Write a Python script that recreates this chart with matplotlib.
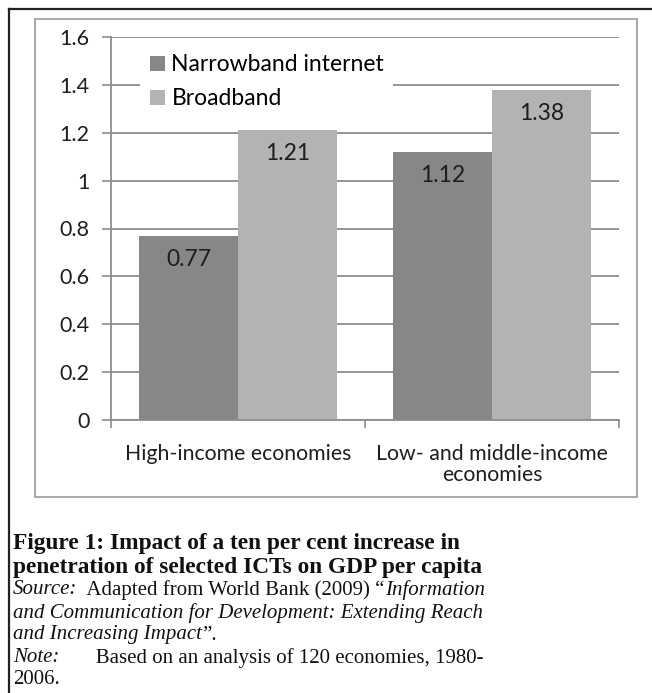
import numpy as np
import matplotlib.pyplot as plt
from matplotlib.lines import Line2D
from matplotlib.patches import Rectangle

# 数据
categories = ["High-income economies", "Low- and middle-income\neconomies"]
series_names = ["Narrowband internet", "Broadband"]
narrowband = [0.77, 1.12]
broadband = [1.21, 1.38]
value_labels = [["0.77", "1.12"], ["1.21", "1.38"]]
y_ticks = [0, 0.2, 0.4, 0.6, 0.8, 1, 1.2, 1.4, 1.6]
y_tick_labels = ["0", "0.2", "0.4", "0.6", "0.8", "1", "1.2", "1.4", "1.6"]

W, H = 652, 693
fig = plt.figure(figsize=(W / 100, H / 100), dpi=100)

def px(x, y):
    # 像素坐标 -> figure 坐标
    return x / W, 1 - y / H

# 外框与内框
fig.add_artist(Line2D([9 / W, 9 / W], [0, 1 - 9 / H], color="#222222", lw=1.6))
fig.add_artist(Line2D([9 / W, 1], [1 - 9 / H, 1 - 9 / H], color="#222222", lw=1.6))
fig.add_artist(Rectangle(px(35, 497), (637 - 35) / W, (497 - 19) / H,
                         fill=False, edgecolor="#9a9a9a", lw=1.2))

# 图表区域
l, r, t, b = 111, 619, 37, 420
ax = fig.add_axes([l / W, 1 - b / H, (r - l) / W, (b - t) / H])

x = np.arange(len(categories))
w = 0.39
c_narrow, c_broad = "#878787", "#b3b3b3"
bars1 = ax.bar(x - w / 2, narrowband, w, color=c_narrow, label=series_names[0], zorder=2)
bars2 = ax.bar(x + w / 2, broadband, w, color=c_broad, label=series_names[1], zorder=2)

txt_font = "Lato"
txt_color = "#1e1e1e"
for bars, labs in zip([bars1, bars2], value_labels):
    for bar, lab in zip(bars, labs):
        ax.annotate(lab, (bar.get_x() + bar.get_width() / 2, bar.get_height()),
                    xytext=(0, -17), textcoords="offset points",
                    ha="center", va="center", fontsize=16.5, family=txt_font,
                    color=txt_color)

ax.set_xlim(-0.5, 1.5)
ax.set_ylim(0, 1.6)
ax.set_yticks(y_ticks)
ax.set_yticklabels(y_tick_labels, family=txt_font, fontsize=15.5, color=txt_color)
ax.set_xticks(x)
ax.set_xticklabels(categories, family=txt_font, fontsize=15.3, color=txt_color,
                   linespacing=1.1)
ax.set_xticks([-0.5, 0.5, 1.5], minor=True)
ax.tick_params(axis="x", which="major", length=0, pad=17)
ax.tick_params(axis="x", which="minor", length=6, color="#8c8c8c", width=1.2)
ax.tick_params(axis="y", length=6.5, color="#8c8c8c", width=1.2, pad=9)

ax.yaxis.grid(True, color="#8c8c8c", lw=1.3)
ax.set_axisbelow(True)
for s in ["top", "right"]:
    ax.spines[s].set_visible(False)
for s in ["left", "bottom"]:
    ax.spines[s].set_color("#8c8c8c")
    ax.spines[s].set_linewidth(1.3)

leg = ax.legend(loc="upper left", bbox_to_anchor=(0.058, 0.979), frameon=True,
                facecolor="white", edgecolor="none", framealpha=1,
                prop={"family": txt_font, "size": 16.5}, handlelength=0.65,
                handleheight=0.65, handletextpad=0.3, labelspacing=0.57,
                borderaxespad=0, borderpad=0.4)
leg.set_zorder(3)

# 图注文字
renderer = fig.canvas.get_renderer()

def draw_line(segments, y, x0=13, size=15, weight="normal"):
    xx = x0
    for s, style in segments:
        tt = fig.text(xx / W, 1 - y / H, s, family="Liberation Serif", style=style,
                      size=size, weight=weight, va="center", ha="left", color="#111111")
        bb = tt.get_window_extent(renderer=renderer)
        xx += bb.width

draw_line([("Figure 1: Impact of a ten per cent increase in", "normal")], 543,
          size=16.8, weight="bold")
draw_line([("penetration of selected ICTs on GDP per capita", "normal")], 567,
          size=16.8, weight="bold")
draw_line([("Source:", "italic"), ("  Adapted from World Bank (2009) \u201c", "normal"),
           ("Information", "italic")], 590)
draw_line([("and Communication for Development: Extending Reach", "italic")], 613)
draw_line([("and Increasing Impact", "italic"), ("\u201d.", "normal")], 635)
draw_line([("Note:", "italic"), ("       Based on an analysis of 120 economies, 1980-", "normal")], 658)
draw_line([("2006.", "normal")], 680)

fig.savefig("out.png", dpi=100)
